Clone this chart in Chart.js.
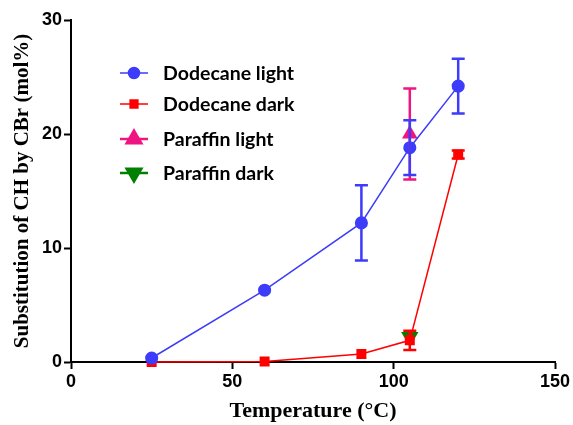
<!DOCTYPE html>
<html><head><meta charset="utf-8">
<script src="https://cdn.jsdelivr.net/npm/chart.js@4.4.0/dist/chart.umd.min.js"></script>
<style>html,body{margin:0;padding:0;background:#fff}#wrap{width:573px;height:425px;position:relative}</style>
</head><body><div id="wrap"><canvas id="c" width="573" height="425"></canvas></div>
<script>
const temps = [25, 60, 90, 105, 120];
const dodecaneLight = [0.35, 6.3, 12.2, 18.8, 24.2];
const dodecaneLightErr = [0, 0, 3.3, 2.4, 2.4];
const dodecaneDark = [0.0, 0.05, 0.7, 1.9, 18.2];
const dodecaneDarkErr = [0, 0, 0, 0.85, 0.35];
const paraffinTemp = [105];
const paraffinLight = [20.0];
const paraffinLightErr = [4.0];
const paraffinDark = [2.2];
const paraffinDarkErr = [0];
const seriesNames = ["Dodecane light", "Dodecane dark", "Paraffin light", "Paraffin dark"];
const xTicks = [0, 50, 100, 150];
const yTicks = [0, 10, 20, 30];

const colors = ["rgb(60,60,250)", "rgb(255,0,0)", "rgb(240,20,130)", "rgb(0,128,0)"];
const pts = (xs, ys) => xs.map((x, i) => ({x: x, y: ys[i]}));

const errorBars = {
  id: 'errorBars',
  afterDatasetsDraw(chart) {
    const ctx = chart.ctx, xs = chart.scales.x, ys = chart.scales.y;
    chart.data.datasets.slice().reverse().forEach((ds) => {
      if (!ds.errors) return;
      ctx.save();
      ctx.strokeStyle = ds.borderColor;
      ctx.lineWidth = 2.5;
      ds.data.forEach((p, i) => {
        const e = ds.errors[i];
        if (!e) return;
        const px = xs.getPixelForValue(p.x);
        const top = ys.getPixelForValue(p.y + e), bot = ys.getPixelForValue(p.y - e);
        ctx.beginPath();
        ctx.moveTo(px, top); ctx.lineTo(px, bot);
        ctx.moveTo(px - 6.5, top); ctx.lineTo(px + 6.5, top);
        ctx.moveTo(px - 6.5, bot); ctx.lineTo(px + 6.5, bot);
        ctx.stroke();
      });
      ctx.restore();
    });
  }
};

const legendPlugin = {
  id: 'inLegend',
  afterDraw(chart) {
    const ctx = chart.ctx;
    const x0 = 120, x1 = 148, tx = 163;
    const ys0 = [73, 104, 139, 173];
    const lr = [5.5, 5.5, 8.5, 8.5];
    chart.data.datasets.forEach((ds, i) => {
      const y = ys0[i];
      ctx.save();
      ctx.strokeStyle = ds.borderColor;
      ctx.lineWidth = i < 2 ? 1.5 : 2.5;
      ctx.beginPath(); ctx.moveTo(x0, y); ctx.lineTo(x1, y); ctx.stroke();
      Chart.helpers.drawPoint(ctx, {
        pointStyle: ds.pointStyle, radius: lr[i], rotation: ds.rotation || 0,
        borderWidth: 1
      }, (x0 + x1) / 2, y);
      ctx.fillStyle = ds.backgroundColor;
      ctx.fill();
      ctx.fillStyle = '#000';
      ctx.font = 'bold 19.5px Lato, "Liberation Sans", sans-serif';
      ctx.textBaseline = 'middle';
      ctx.fillText(ds.label, tx, y + 1);
      ctx.restore();
    });
  }
};

new Chart(document.getElementById('c'), {
  type: 'scatter',
  data: {
    datasets: [
      {label: seriesNames[0], data: pts(temps, dodecaneLight), errors: dodecaneLightErr, showLine: true, clip: false,
       borderColor: colors[0], backgroundColor: colors[0], borderWidth: 1.5, pointStyle: 'circle', pointRadius: 5.8},
      {label: seriesNames[1], data: pts(temps, dodecaneDark), errors: dodecaneDarkErr, showLine: true, clip: false,
       borderColor: colors[1], backgroundColor: colors[1], borderWidth: 1.5, pointStyle: 'rect', pointRadius: 6},
      {label: seriesNames[2], data: pts(paraffinTemp, paraffinLight), errors: paraffinLightErr, showLine: false, clip: false,
       borderColor: colors[2], backgroundColor: colors[2], pointStyle: 'triangle', pointRadius: 9},
      {label: seriesNames[3], data: pts(paraffinTemp, paraffinDark), errors: paraffinDarkErr, showLine: false, clip: false,
       borderColor: colors[3], backgroundColor: colors[3], pointStyle: 'triangle', pointRadius: 10, rotation: 180}
    ]
  },
  options: {
    responsive: false, animation: false,
    layout: {padding: {top: 20, right: 18, left: 0, bottom: 0}},
    plugins: {legend: {display: false}, tooltip: {enabled: false}},
    elements: {point: {borderWidth: 0}},
    scales: {
      x: {
        type: 'linear', min: 0, max: 150,
        afterBuildTicks: (a) => { a.ticks = xTicks.map(v => ({value: v})); },
        grid: {drawOnChartArea: false, color: '#000', tickLength: 7, tickWidth: 2},
        border: {color: '#000', width: 2},
        ticks: {color: '#000', font: {family: '"Liberation Sans", Arial, sans-serif', weight: 'bold', size: 18}, padding: 2, maxRotation: 0},
        title: {display: true, text: 'Temperature (°C)', color: '#000', font: {family: '"Liberation Serif", "Times New Roman", serif', weight: 'bold', size: 22}, padding: {top: 0, bottom: 0}},
        afterFit: (s) => { s.height = 63; }
      },
      y: {
        type: 'linear', min: 0, max: 30,
        afterBuildTicks: (a) => { a.ticks = yTicks.map(v => ({value: v})); },
        grid: {drawOnChartArea: false, color: '#000', tickLength: 7, tickWidth: 2},
        border: {color: '#000', width: 2},
        ticks: {color: '#000', font: {family: '"Liberation Sans", Arial, sans-serif', weight: 'bold', size: 18}, padding: 2},
        title: {display: true, text: 'Substitution of CH by CBr (mol%)', color: '#000', font: {family: '"Liberation Serif", "Times New Roman", serif', weight: 'bold', size: 21}, padding: {top: 10, bottom: 0}},
        afterFit: (s) => { s.width = 71; }
      }
    }
  },
  plugins: [errorBars, legendPlugin]
});
</script></body></html>
